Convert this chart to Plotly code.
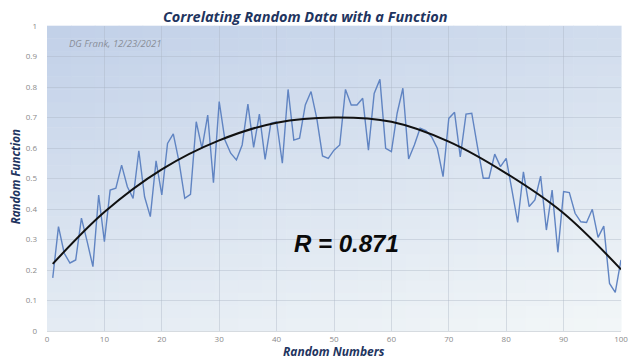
import plotly.graph_objects as go

# ---- data ----
x_data = list(range(1, 101))
y_data = [
    0.174, 0.342, 0.255, 0.223, 0.233, 0.370, 0.293, 0.211, 0.446, 0.293,
    0.462, 0.468, 0.544, 0.473, 0.435, 0.591, 0.440, 0.375, 0.558, 0.446,
    0.615, 0.646, 0.555, 0.435, 0.448, 0.686, 0.599, 0.708, 0.486, 0.752,
    0.626, 0.583, 0.561, 0.610, 0.744, 0.602, 0.711, 0.563, 0.681, 0.686,
    0.550, 0.792, 0.626, 0.632, 0.741, 0.785, 0.697, 0.574, 0.566, 0.593,
    0.610, 0.792, 0.741, 0.741, 0.763, 0.593, 0.779, 0.825, 0.599, 0.588,
    0.714, 0.796, 0.564, 0.610, 0.665, 0.657, 0.637, 0.599, 0.506, 0.697,
    0.717, 0.571, 0.711, 0.714, 0.604, 0.501, 0.501, 0.580, 0.539, 0.566,
    0.462, 0.356, 0.522, 0.408, 0.430, 0.508, 0.331, 0.462, 0.258, 0.457,
    0.454, 0.386, 0.358, 0.356, 0.399, 0.307, 0.344, 0.156, 0.127, 0.233,
]
x_fit = [1, 10, 20, 30, 40, 50, 60, 70, 80, 90, 100]
y_fit = [0.220, 0.390, 0.530, 0.625, 0.683, 0.700, 0.686, 0.621, 0.517, 0.386, 0.202]

x_ticks = [0, 10, 20, 30, 40, 50, 60, 70, 80, 90, 100]
y_ticks = [0, 0.1, 0.2, 0.3, 0.4, 0.5, 0.6, 0.7, 0.8, 0.9, 1]
y_tick_text = ["0", "0.1", "0.2", "0.3", "0.4", "0.5", "0.6", "0.7", "0.8", "0.9", "1"]

title_text = "Correlating Random Data with a Function"
x_title = "Random Numbers"
y_title = "Random Function"
author_text = "DG Frank, 12/23/2021"
r_text = "R = 0.871"

# ---- background gradient (styling) ----
dark = (193, 208, 232)
light = (243, 247, 248)
shapes = []
N = 24
for i in range(N):
    for j in range(N):
        xf = (i + 0.5) / N
        yf = (j + 0.5) / N
        d = yf * 0.7 + (1 - xf) * 0.3
        c = tuple(int(round(light[k] + (dark[k] - light[k]) * d)) for k in range(3))
        shapes.append(dict(
            type="rect", xref="paper", yref="paper",
            x0=i / N, x1=(i + 1) / N + 0.001, y0=j / N, y1=(j + 1) / N + 0.001,
            fillcolor="rgb(%d,%d,%d)" % c, line=dict(width=0), layer="below"))

fig = go.Figure()
fig.add_trace(go.Scatter(
    x=x_data, y=y_data, mode="lines",
    line=dict(color="#6084c2", width=1.4), hoverinfo="skip", showlegend=False))
fig.add_trace(go.Scatter(
    x=x_fit, y=y_fit, mode="lines",
    line=dict(color="#111111", width=2, shape="spline", smoothing=1.0),
    hoverinfo="skip", showlegend=False))

navy = "#1f3560"
# page body has an 8px default margin, so the figure is 8px smaller each way
fig.update_layout(
    width=632, height=352,
    margin=dict(l=39, r=13, t=18, b=29),
    paper_bgcolor="white", plot_bgcolor="#eef2f7",
    shapes=shapes,
    xaxis=dict(range=[0, 100], tickvals=x_ticks, showgrid=True,
               gridcolor="rgba(170,180,195,0.4)", gridwidth=1,
               zeroline=False, showline=True, linecolor="#d6dbe0",
               tickfont=dict(family="Open Sans", size=8, color="#8a8a8a"),
               ticks="", ticklabeloverflow="allow", fixedrange=True),
    yaxis=dict(range=[0, 1], tickvals=y_ticks, ticktext=y_tick_text, showgrid=True,
               gridcolor="rgba(170,180,195,0.4)", gridwidth=1,
               zeroline=False, showline=False,
               tickfont=dict(family="Open Sans", size=8, color="#8a8a8a"),
               ticks="", ticklabelstandoff=9, fixedrange=True),
    annotations=[
        dict(text="<b><i>%s</i></b>" % title_text, xref="paper", yref="paper",
             x=0.45, y=1.031, showarrow=False, xanchor="center", yanchor="middle",
             borderpad=0,
             font=dict(family="Open Sans", size=14.5, color=navy)),
        dict(text="<b><i>%s</i></b>" % x_title, xref="paper", yref="paper",
             x=0.5, y=-0.067, showarrow=False, xanchor="center", yanchor="middle",
             borderpad=0,
             font=dict(family="Open Sans", size=12, color=navy)),
        dict(text="<b><i>%s</i></b>" % y_title, xref="paper", yref="paper",
             x=-0.0535, y=0.505, showarrow=False, xanchor="center", yanchor="middle",
             borderpad=0,
             textangle=-90, font=dict(family="Open Sans", size=11.5, color=navy)),
        dict(text="<i>%s</i>" % author_text, xref="paper", yref="paper",
             x=0.035, y=0.942, showarrow=False, xanchor="left", yanchor="middle",
             font=dict(family="Open Sans", size=9.5, color="#8a8f99")),
        dict(text="<b><i>%s</i></b>" % r_text, xref="paper", yref="paper",
             x=0.521, y=0.287, showarrow=False, xanchor="center", yanchor="middle",
             font=dict(family="Liberation Sans", size=24, color="#0a0a0a")),
    ],
)

fig.write_html("out.html")
